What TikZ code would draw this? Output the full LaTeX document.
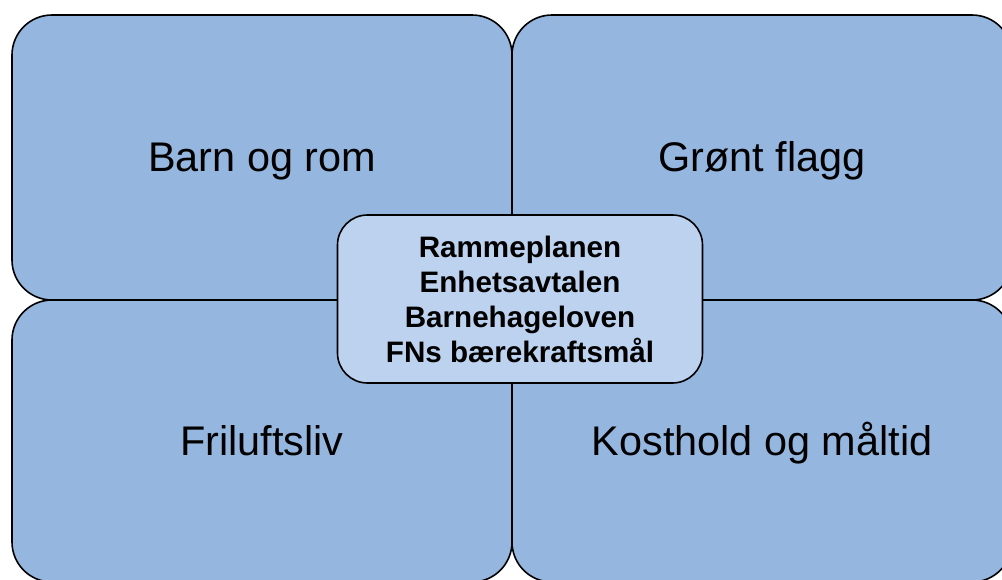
\documentclass[tikz,border=0pt]{standalone}
\usepackage{fontspec}
\setmainfont{Liberation Sans}
\usetikzlibrary{shapes}
\definecolor{areablue}{HTML}{95B6DF}
\definecolor{coreblue}{HTML}{BDD2EE}

\begin{document}
\begin{tikzpicture}[x=0.5pt,y=-0.5pt]
\tikzstyle{area} = [draw=black,fill=areablue,line width=0.8pt,rounded corners=20pt,minimum width=250pt,inner sep=0pt,text height=18.7pt,text depth=4.4pt,font=\fontsize{20.7}{24}\selectfont]
\tikzstyle{core} = [draw=black,fill=coreblue,line width=0.8pt,rounded corners=15pt,minimum width=182.5pt,minimum height=84pt,inner sep=0pt,align=center,font=\bfseries\fontsize{14.8}{17.5}\selectfont]
\useasboundingbox (0,0) rectangle (1002,579);
\node[area,minimum height=142.5pt] (barn) at (262,157.5) {Barn og rom};
\node[area,minimum height=142.5pt] (flagg) at (762,157.5) {Grønt flagg};
\node[area,minimum height=141pt] (friluft) at (262,441) {Friluftsliv};
\node[area,minimum height=141pt] (kost) at (762,441) {Kosthold og måltid};
\node[core] (planer) at (520,299) {Rammeplanen\\Enhetsavtalen\\Barnehageloven\\FNs bærekraftsmål};
\end{tikzpicture}
\end{document}
